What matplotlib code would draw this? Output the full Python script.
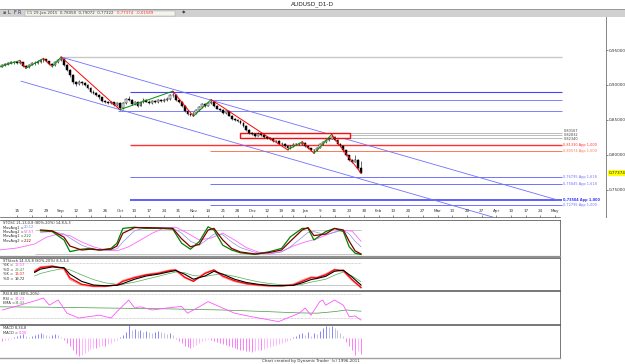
import matplotlib
matplotlib.use('Agg')
import matplotlib.pyplot as plt
from matplotlib.patches import Rectangle

W, H = 625, 364

# daily bars, first bar index 4 (one bar per business day)
bar_start = 4
opens = [0.9255, 0.9262, 0.9290, 0.9305, 0.9318, 0.9330, 0.9322, 0.9318, 0.9330, 0.9270,
         0.9255, 0.9290, 0.9310, 0.9320, 0.9335, 0.9350, 0.9365, 0.9340, 0.9300, 0.9280,
         0.9330, 0.9350, 0.9375, 0.9290, 0.9210, 0.9140, 0.9035, 0.9010, 0.9040, 0.9030,
         0.9000, 0.8955, 0.8900, 0.8890, 0.8855, 0.8820, 0.8770, 0.8760, 0.8740, 0.8750,
         0.8710, 0.8740, 0.8670, 0.8745, 0.8800, 0.8780, 0.8720, 0.8760, 0.8700, 0.8760,
         0.8790, 0.8760, 0.8740, 0.8770, 0.8750, 0.8780, 0.8770, 0.8790, 0.8800, 0.8850,
         0.8860, 0.8790, 0.8760, 0.8700, 0.8620, 0.8580, 0.8570, 0.8600, 0.8640, 0.8680,
         0.8720, 0.8700, 0.8740, 0.8750, 0.8700, 0.8660, 0.8640, 0.8600, 0.8620, 0.8560,
         0.8510, 0.8500, 0.8480, 0.8460, 0.8410, 0.8350, 0.8310, 0.8290, 0.8270, 0.8300,
         0.8280, 0.8250, 0.8240, 0.8230, 0.8190, 0.8200, 0.8160, 0.8150, 0.8120, 0.8100,
         0.8120, 0.8150, 0.8160, 0.8150, 0.8170, 0.8120, 0.8090, 0.8070, 0.8060, 0.8100,
         0.8150, 0.8180, 0.8210, 0.8230, 0.8250, 0.8210, 0.8150, 0.8120, 0.8060, 0.7990,
         0.7920, 0.7900, 0.7930, 0.7806]
highs = [0.9285, 0.9300, 0.9318, 0.9330, 0.9345, 0.9342, 0.9338, 0.9350, 0.9335, 0.9285,
         0.9300, 0.9325, 0.9338, 0.9352, 0.9368, 0.9380, 0.9372, 0.9348, 0.9315, 0.9345,
         0.9372, 0.9400, 0.9382, 0.9300, 0.9225, 0.9150, 0.9062, 0.9065, 0.9058, 0.9045,
         0.9012, 0.8968, 0.8925, 0.8902, 0.8870, 0.8832, 0.8790, 0.8772, 0.8775, 0.8760,
         0.8762, 0.8748, 0.8760, 0.8815, 0.8840, 0.8792, 0.8775, 0.8770, 0.8775, 0.8812,
         0.8805, 0.8778, 0.8790, 0.8785, 0.8798, 0.8795, 0.8808, 0.8822, 0.8870, 0.8910,
         0.8872, 0.8805, 0.8770, 0.8712, 0.8635, 0.8598, 0.8615, 0.8655, 0.8695, 0.8738,
         0.8740, 0.8758, 0.8790, 0.8762, 0.8712, 0.8675, 0.8652, 0.8638, 0.8630, 0.8572,
         0.8528, 0.8515, 0.8495, 0.8470, 0.8422, 0.8365, 0.8330, 0.8305, 0.8318, 0.8312,
         0.8292, 0.8268, 0.8255, 0.8242, 0.8215, 0.8210, 0.8175, 0.8162, 0.8132, 0.8135,
         0.8162, 0.8172, 0.8170, 0.8185, 0.8178, 0.8130, 0.8102, 0.8085, 0.8115, 0.8165,
         0.8195, 0.8225, 0.8248, 0.8290, 0.8262, 0.8222, 0.8165, 0.8132, 0.8072, 0.8002,
         0.7942, 0.7990, 0.7942, 0.7907]
lows = [0.9240, 0.9250, 0.9275, 0.9290, 0.9305, 0.9300, 0.9295, 0.9305, 0.9255, 0.9238,
        0.9245, 0.9280, 0.9292, 0.9305, 0.9320, 0.9335, 0.9325, 0.9288, 0.9262, 0.9272,
        0.9318, 0.9340, 0.9275, 0.9195, 0.9120, 0.9020, 0.8985, 0.8998, 0.9005, 0.8982,
        0.8935, 0.8885, 0.8872, 0.8840, 0.8805, 0.8755, 0.8742, 0.8722, 0.8728, 0.8695,
        0.8700, 0.8645, 0.8660, 0.8730, 0.8765, 0.8705, 0.8710, 0.8688, 0.8692, 0.8745,
        0.8748, 0.8725, 0.8730, 0.8735, 0.8740, 0.8755, 0.8760, 0.8775, 0.8790, 0.8830,
        0.8775, 0.8745, 0.8688, 0.8605, 0.8568, 0.8555, 0.8550, 0.8590, 0.8628, 0.8668,
        0.8688, 0.8692, 0.8728, 0.8688, 0.8648, 0.8625, 0.8588, 0.8590, 0.8548, 0.8495,
        0.8488, 0.8465, 0.8445, 0.8395, 0.8338, 0.8295, 0.8275, 0.8255, 0.8262, 0.8265,
        0.8235, 0.8225, 0.8215, 0.8178, 0.8180, 0.8148, 0.8138, 0.8105, 0.8070, 0.8088,
        0.8110, 0.8135, 0.8138, 0.8142, 0.8108, 0.8078, 0.8055, 0.8020, 0.8048, 0.8090,
        0.8138, 0.8168, 0.8195, 0.8218, 0.8195, 0.8138, 0.8105, 0.8045, 0.7975, 0.7905,
        0.7885, 0.7892, 0.7798, 0.7732]
closes = [0.9262, 0.9290, 0.9305, 0.9318, 0.9330, 0.9322, 0.9318, 0.9330, 0.9270, 0.9255,
          0.9290, 0.9310, 0.9320, 0.9335, 0.9350, 0.9365, 0.9340, 0.9300, 0.9280, 0.9330,
          0.9350, 0.9375, 0.9290, 0.9210, 0.9140, 0.9035, 0.9010, 0.9040, 0.9030, 0.9000,
          0.8955, 0.8900, 0.8890, 0.8855, 0.8820, 0.8770, 0.8760, 0.8740, 0.8750, 0.8710,
          0.8740, 0.8670, 0.8745, 0.8800, 0.8780, 0.8720, 0.8760, 0.8700, 0.8760, 0.8790,
          0.8760, 0.8740, 0.8770, 0.8750, 0.8780, 0.8770, 0.8790, 0.8800, 0.8850, 0.8860,
          0.8790, 0.8760, 0.8700, 0.8620, 0.8580, 0.8570, 0.8600, 0.8640, 0.8680, 0.8720,
          0.8700, 0.8740, 0.8750, 0.8700, 0.8660, 0.8640, 0.8600, 0.8620, 0.8560, 0.8510,
          0.8500, 0.8480, 0.8460, 0.8410, 0.8350, 0.8310, 0.8290, 0.8270, 0.8300, 0.8280,
          0.8250, 0.8240, 0.8230, 0.8190, 0.8200, 0.8160, 0.8150, 0.8120, 0.8100, 0.8120,
          0.8150, 0.8160, 0.8150, 0.8170, 0.8120, 0.8090, 0.8070, 0.8060, 0.8100, 0.8150,
          0.8180, 0.8210, 0.8230, 0.8250, 0.8210, 0.8150, 0.8120, 0.8060, 0.7990, 0.7920,
          0.7900, 0.7930, 0.7806, 0.7737]

# zigzag swing points
pivot_idx = [4, 11, 13, 19, 22, 25, 45, 63, 70, 76, 102, 107, 111, 117, 127]
pivot_px = [0.9256, 0.9350, 0.9238, 0.9380, 0.9262, 0.9400, 0.8645, 0.8910, 0.8550,
            0.8790, 0.8070, 0.8185, 0.8020, 0.8290, 0.7732]

# channel lines (start bar, start price, end bar, end price)
chan_upper = [25, 0.9400, 194.7, 0.7340]
chan_lower = [11.4, 0.9053, 176.0, 0.7055]

# horizontal levels: price, first bar, colour, label and where the label sits
lvl_price = [0.9400, 0.8898, 0.8783, 0.8626, 0.83167, 0.82832, 0.82340, 0.81330, 0.80574,
             0.76795, 0.75845, 0.73504, 0.72795]
lvl_start = [25, 48.4, 75.6, 44.4, 116.5, 116.5, 116.5, 48.4, 75.6, 48.4, 75.6, 48.4, 75.6]
lvl_label = ["", "", "", "", "0,83167", "0,82832", "0,82340", "0,81330 App 1,000",
             "0,80574 App 1,000", "0,76795 App 1,618", "0,75845 App 1,618",
             "0,73504 App 1,000", "0,72795 App 1,000"]
lvl_label_at = [0, 0, 0, 0, 0.8338, 0.8284, 0.8228, 0.81330, 0.80574, 0.76795, 0.75845,
                0.73504, 0.72795]
lvl_color = ["#c8c8c8", "#4444ff", "#8080ff", "#8080ff", "#a0a0a0", "#a0a0a0", "#a0a0a0",
             "#ff3030", "#ff7755", "#7070ff", "#7070ff", "#3333ff", "#7070ff"]
lvl_width = [1.0, 0.8, 0.7, 0.7, 0.5, 0.5, 0.5, 1.0, 0.7, 0.7, 0.7, 1.1, 0.7]

box_bars = [86, 123.4]
box_prices = [0.8239, 0.8311]

last_close = 0.77374
price_ticks = [0.95, 0.90, 0.85, 0.80, 0.75]
price_labels = ["0,95000", "0,90000", "0,85000", "0,80000", "0,75000"]

date_idx = [10, 15, 20, 25, 30, 35, 40, 45, 50, 55, 60, 65, 70, 75, 80, 85, 90, 95, 100,
            104, 108, 113, 118, 123, 128, 133, 138, 143, 148, 153, 158, 163, 168, 173,
            178, 183, 188, 193]
date_labels = ["15", "22", "29", "Sep", "12", "19", "26", "Oct", "10", "17", "24", "31",
               "Nov", "14", "21", "28", "Dec", "12", "19", "26", "Jan", "9", "16", "23",
               "30", "Feb", "13", "20", "27", "Mar", "13", "20", "27", "Apr", "10", "17",
               "24", "May"]

# STOSC panel
osc_idx = [18, 22, 26, 28, 32, 35, 38, 42, 44, 46, 50, 54, 59, 63, 66, 69, 72, 75, 77, 80,
           83, 86, 91, 96, 100, 103, 107, 109, 111, 115, 118, 121, 123, 125, 127]
osc_green = [78, 76, 55, 26, 32, 34, 30, 34, 47, 84, 87, 84, 84, 82, 47, 32, 51, 88, 80, 42,
             30, 23, 19, 26, 34, 63, 84, 84, 55, 76, 84, 76, 38, 22, 19]
osc_darkred = [80, 78, 62, 40, 30, 32, 30, 32, 40, 72, 86, 86, 85, 84, 58, 38, 44, 80, 84,
               55, 34, 25, 20, 24, 30, 52, 80, 86, 66, 70, 84, 80, 52, 28, 20]
osc_blue = [74, 76, 70, 60, 42, 34, 30, 30, 33, 50, 78, 86, 86, 85, 72, 52, 42, 58, 70, 68,
            50, 36, 24, 22, 25, 38, 62, 74, 76, 68, 74, 80, 70, 52, 38]
osc_pink_idx = [4, 10, 16, 20, 24, 28, 32, 36, 40, 44, 48, 52, 56, 60, 64, 68, 72, 76, 80,
                84, 88, 92, 96, 100, 104, 108, 112, 116, 120, 124, 127]
osc_pink = [30, 35, 45, 62, 70, 66, 50, 38, 30, 28, 38, 55, 72, 85, 87, 72, 55, 60, 72, 55,
            36, 25, 20, 26, 40, 50, 58, 70, 80, 77, 52]

# STStoch panel
sto_idx = [16, 18, 22, 26, 28, 32, 36, 40, 44, 46, 50, 54, 58, 62, 64, 67, 70, 74, 77, 80,
           84, 88, 92, 96, 100, 104, 107, 110, 112, 115, 118, 121, 124, 127]
sto_red = [57, 68, 72, 66, 40, 22, 17, 17, 20, 30, 40, 48, 52, 60, 62, 42, 30, 52, 62, 45,
           32, 24, 20, 18, 18, 20, 30, 40, 40, 48, 62, 60, 35, 13]
sto_salmon = [60, 70, 73, 64, 36, 20, 16, 16, 21, 32, 42, 49, 54, 61, 60, 40, 31, 54, 61,
              43, 30, 23, 19, 17, 18, 22, 33, 42, 41, 50, 63, 58, 33, 13]
sto_black = [55, 64, 70, 68, 50, 30, 20, 18, 19, 24, 36, 45, 50, 57, 60, 50, 36, 45, 58, 50,
             36, 27, 22, 19, 18, 19, 26, 35, 38, 44, 58, 61, 42, 20]
sto_green = [45, 52, 60, 66, 62, 48, 35, 26, 22, 22, 28, 36, 44, 52, 56, 54, 46, 44, 48, 50,
             44, 36, 29, 24, 21, 20, 22, 28, 31, 36, 47, 56, 45, 29]

# RSI panel
rsi_idx = [5, 11, 17, 19, 21, 24, 27, 31, 34, 38, 42, 44, 48, 50, 52, 56, 61, 66, 68, 72,
           75, 79, 84, 90, 96, 99, 103, 106, 108, 110, 113, 114, 115, 118, 121, 123, 125, 127]
rsi_vals = [40, 52, 65, 70, 52, 65, 32, 20, 23, 27, 20, 36, 65, 45, 48, 40, 45, 49, 32, 48,
            61, 48, 32, 23, 15, 11, 23, 32, 45, 27, 61, 65, 52, 65, 52, 23, 25, 15]
ema_idx = [4, 20, 40, 60, 80, 95, 105, 112, 118, 122, 127]
ema_vals = [48, 47, 45, 43, 40, 36, 33, 32, 36, 40, 37]

# MACD histogram, one value per bar from bar 4
macd_hist = [-2, -2.5, -2, -1.5, -1, 1, 2, 3, 4, 2, 1, 2, 3, 4, 5, 4, 3, 2, 3, 4, 3,
             1, -2, -5, -8, -12, -16, -18, -17, -15, -13,
             -11, -10, -10, -9, -8, -8, -6, -5, -3, -2,
             1, 3, 6, 13, 8, 9, 7, 8, 6, 7, 6, 5, 6, 7, 6, 5, 4, 5, 3,
             -1, -3, -5, -8, -9, -10, -9, -7, -5, -3, -2, -1, -2, -3,
             -4, -5, -6, -7, -8, -9, -10, -11, -12, -12, -13, -13, -14, -13, -12, -12, -11, -10,
             -9, -8, -7, -6, -5, -4, -3, -2, 1, 2,
             4, 5, 3, 6, 2, 5, 4, 7, 10, 12, 11, 12, 10, 8, 5, 2,
             -4, -8, -12, -17, -13, -16]

fig = plt.figure(figsize=(W / 100, H / 100), dpi=100)
fig.patch.set_facecolor("white")


def px_axes(x0, y0, x1, y1):
    return fig.add_axes([x0 / W, 1 - y1 / H, (x1 - x0) / W, (y1 - y0) / H])


def ptext(x, y, s, **kw):
    kw.setdefault("fontsize", 3.3)
    kw.setdefault("va", "center")
    fig.text(x / W, 1 - y / H, s, **kw)


# title bar and toolbar
fig.add_artist(Rectangle((0, 1 - 16.5 / H), 1, 7 / H, transform=fig.transFigure,
                         facecolor="#d0d0d0", edgecolor="none"))
fig.add_artist(Rectangle((25 / W, 1 - 15.5 / H), 150 / W, 5 / H, transform=fig.transFigure,
                         facecolor="#f4f4ec", edgecolor="#a0a0a0", linewidth=0.3))
fig.add_artist(plt.Line2D([0, 1], [1 - 9.3 / H] * 2, color="#909090", linewidth=0.6))
ptext(312, 4.5, "AUDUSD_D1-D", fontsize=4.2, ha="center", color="#202020")
ptext(3, 13, "\u25aa", fontsize=3.5, color="#507050")
ptext(8, 13, "L", fontsize=3.5, color="#303030")
ptext(13, 13, "F", fontsize=3.5, color="#303030")
ptext(18, 13, "R", fontsize=3.5, color="#303080")
ptext(27, 13, "C1 29-Jan-2015  0,78058  0,79072  0,77322", fontsize=2.8, color="#404040")
ptext(117, 13, "0,77374  -0,01589", fontsize=2.8, color="#ff3030")
ptext(182, 13, "\u25c6", fontsize=3.2, color="#404040")

# main price panel
ax = px_axes(0, 17, 606, 217)
ax.set_xlim(4.22, 210.3)
ax.set_ylim(0.7107, 0.9973)

for p, s, c, lw, lab, at in zip(lvl_price, lvl_start, lvl_color, lvl_width, lvl_label,
                                lvl_label_at):
    ax.hlines(p, s, 195.4, colors=c, linewidth=lw, zorder=1)
    if lab:
        bold = lab.startswith("0,73504")
        ax.text(195.8, at, lab, fontsize=2.5, va="center",
                color=c if c != "#a0a0a0" else "#404040",
                fontweight="bold" if bold else "normal")

for ch in (chan_upper, chan_lower):
    ax.plot([ch[0], ch[2]], [ch[1], ch[3]], color="#7070ff", linewidth=0.6, zorder=1)

ax.add_patch(Rectangle((box_bars[0], box_prices[0]), box_bars[1] - box_bars[0],
                       box_prices[1] - box_prices[0], facecolor="#fff4f4",
                       edgecolor="#ee1111", linewidth=1.0, zorder=2))

for k, (o, h, l, c) in enumerate(zip(opens, highs, lows, closes)):
    x = bar_start + k
    ax.vlines(x, l, h, colors="#202020", linewidth=0.45, zorder=3)
    up = c >= o
    ax.bar(x, max(abs(c - o), 0.0003), bottom=min(o, c), width=0.62,
           color="white" if up else "black", edgecolor="black", linewidth=0.35, zorder=4)

for a in range(len(pivot_idx) - 1):
    col = "#009000" if pivot_px[a + 1] > pivot_px[a] else "#ff0000"
    ax.plot(pivot_idx[a:a + 2], pivot_px[a:a + 2], color=col, linewidth=0.7, zorder=5)

ax.yaxis.tick_right()
ax.set_yticks(price_ticks)
ax.set_yticklabels(price_labels)
ax.tick_params(axis="y", labelsize=3.0, length=1.5, width=0.4, pad=0.8,
               colors="#303030")
ax.set_xticks(date_idx)
ax.set_xticklabels(date_labels)
ax.tick_params(axis="x", direction="in", labelsize=3.0, length=1.5, width=0.4,
               pad=-5.8, colors="#303030")
for sp in ("top", "left"):
    ax.spines[sp].set_visible(False)
ax.spines["right"].set_color("#707070")
ax.spines["right"].set_linewidth(0.6)
ax.spines["bottom"].set_bounds(4.22, 194.7)
ax.spines["bottom"].set_color("#505050")
ax.spines["bottom"].set_linewidth(0.5)
ax.text(1.004, last_close, "0,77374", transform=ax.get_yaxis_transform(), fontsize=3.0,
        va="center", color="#202020",
        bbox=dict(facecolor="#ffff00", edgecolor="none", pad=0.4))


def panel(y0, y1, ylim):
    a = px_axes(0, y0, 560, y1)
    a.set_xlim(4.22, 194.7)
    a.set_ylim(*ylim)
    a.set_xticks([])
    a.set_yticks([])
    for sp in a.spines.values():
        sp.set_linewidth(0.5)
        sp.set_color("#404040")
    a.spines["left"].set_visible(False)
    return a


# STOSC
a1 = panel(220, 257, (12.5, 105))
a1.hlines([80, 20], 16, 127, colors="#b0b0b0", linewidth=0.5)
a1.plot(osc_pink_idx, osc_pink, color="#ff66ff", linewidth=0.6)
a1.plot(osc_idx, osc_blue, color="#9090e0", linewidth=0.5)
a1.plot(osc_idx, osc_green, color="#008000", linewidth=0.9)
a1.plot(osc_idx, osc_darkred, color="#800000", linewidth=0.9)
a1.spines["bottom"].set_linewidth(1.6)
a1.spines["bottom"].set_color("#909090")

# STStoch
a2 = panel(258, 290, (6.2, 94.7))
a2.hlines([80], 4, 127, colors="#b0b0b0", linewidth=0.5, linestyles=(0, (1, 1)))
a2.hlines([20], 4, 127, colors="#b0b0b0", linewidth=0.5)
a2.plot(sto_idx, sto_green, color="#55aa55", linewidth=0.5)
a2.plot(sto_idx, sto_salmon, color="#ff9090", linewidth=1.2)
a2.plot(sto_idx, sto_red, color="#ff0000", linewidth=0.9)
a2.plot(sto_idx, sto_black, color="#000000", linewidth=0.8)

# RSI
a3 = panel(291, 324, (5, 87.5))
a3.hlines([80, 20], 4, 127, colors="#b0b0b0", linewidth=0.5, linestyles=(0, (1, 1)))
a3.plot(ema_idx, ema_vals, color="#449944", linewidth=0.5)
a3.plot(rsi_idx, rsi_vals, color="#ff55ff", linewidth=0.6)

# MACD
a4 = panel(325, 358, (-19.7, 13.3))
for k, v in enumerate(macd_hist):
    prev = macd_hist[k - 1] if k else v
    if v >= 0:
        col = "#7070ff" if v >= prev else "#b8b8d8"
    else:
        col = "#ff66ff" if v <= prev else "#ffaaff"
    a4.vlines(bar_start + k, 0, v, colors=col, linewidth=0.6)
a4.spines["bottom"].set_color("#a0a0a0")
a4.spines["bottom"].set_linewidth(1.0)

# panel headers
hdr = dict(color="#303030", fontsize=2.6)
ptext(3, 223, "STOSC 21,13,0,8 (80%-20%) 14,8,5,3", **hdr)
for row, (name, val, col) in enumerate([("MovAvg1 =", "20,12", "#8080e0"),
                                        ("MovAvg2 =", "57,57", "#ff40ff"),
                                        ("MovAvg1 =", "2,22", "#008000"),
                                        ("MovAvg2 =", "2,22", "#800000")]):
    ptext(3, 227.5 + 4.4 * row, name, **hdr)
    ptext(24, 227.5 + 4.4 * row, val, color=col, fontsize=2.6)

ptext(3, 261, "STStoch 14,3,5,8 (80%-20%) 8,5,3,4", **hdr)
for row, (name, val, col) in enumerate([("%K =", "13,03", "#ff60ff"),
                                        ("%D =", "29,47", "#409040"),
                                        ("%K =", "13,07", "#ff2020"),
                                        ("%D =", "19,72", "#202020")]):
    ptext(3, 265.5 + 4.4 * row, name, **hdr)
    ptext(15, 265.5 + 4.4 * row, val, color=col, fontsize=2.6)

ptext(3, 294, "RSI 8,80 (80%-20%)", **hdr)
ptext(3, 298.5, "RSI =", **hdr)
ptext(15, 298.5, "34,23", color="#ff40ff", fontsize=2.6)
ptext(3, 303, "EMA =", **hdr)
ptext(15, 303, "34,43", color="#409040", fontsize=2.6)

ptext(3, 328, "MACD 8,34,8", **hdr)
ptext(3, 332.5, "MACD =", **hdr)
ptext(19, 332.5, "0,00", color="#ff40ff", fontsize=2.6)

ptext(311, 361, "Chart created by Dynamic Trader  (c) 1996-2011", ha="center",
      color="#303030", fontsize=2.9)

fig.savefig("out.png", dpi=100)
